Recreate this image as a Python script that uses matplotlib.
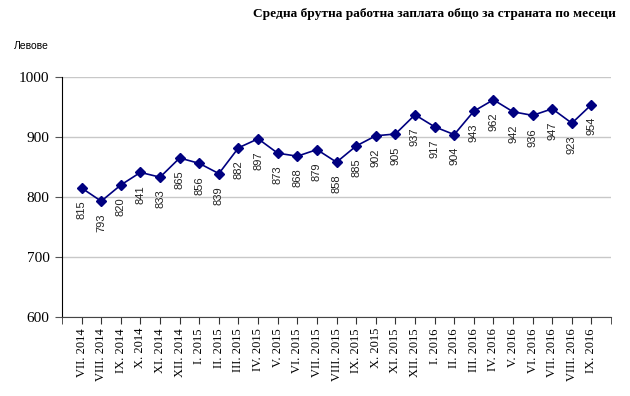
import matplotlib
matplotlib.use('Agg')
import matplotlib.pyplot as plt
import numpy as np

# months and average gross salary (leva)
months = ["VII. 2014", "VIII. 2014", "IX. 2014", "X. 2014", "XI. 2014", "XII. 2014",
          "I. 2015", "II. 2015", "III. 2015", "IV. 2015", "V. 2015", "VI. 2015",
          "VII. 2015", "VIII. 2015", "IX. 2015", "X. 2015", "XI. 2015", "XII. 2015",
          "I. 2016", "II. 2016", "III. 2016", "IV. 2016", "V. 2016", "VI. 2016",
          "VII. 2016", "VIII. 2016", "IX. 2016"]
salary = [815, 793, 820, 841, 833, 865, 856, 839, 882, 897, 873, 868, 879, 858,
          885, 902, 905, 937, 917, 904, 943, 962, 942, 936, 947, 923, 954]
yticks = [600, 700, 800, 900, 1000]

title = "Средна брутна работна заплата общо за страната по месеци"

fig = plt.figure(figsize=(6.3, 3.96), dpi=100)
ax = fig.add_axes([0.0984, 0.1995, 0.8716, 0.6061])

x = np.arange(len(salary))
ax.plot(x, salary, color='#000080', linewidth=1.2, marker='D', markersize=5.5, zorder=3)

# value labels under each point
for xi, v in zip(x, salary):
	ax.annotate(str(v), (xi, v), xytext=(0, -9), textcoords='offset points',
		rotation=90, ha='center', va='top', fontsize=8, color='#222222',
		family='Liberation Sans')

ax.set_xlim(-1, len(salary))
ax.set_ylim(600, 1000)
ax.set_yticks(yticks)
ax.set_yticklabels([str(t) for t in yticks], family='Liberation Serif', fontsize=11)
ax.yaxis.grid(True, color='#c8c8c8', linewidth=1)
ax.set_axisbelow(True)

ax.set_xticks(x)
ax.set_xticklabels(months, rotation=90, family='Liberation Serif', fontsize=9)
ax.set_xticks([-1, len(salary)], minor=True)
ax.tick_params(axis='x', which='both', length=5, direction='out', color='#333333', pad=3)
ax.tick_params(axis='y', length=5, direction='out', pad=4, color='#555555')

ax.spines['top'].set_visible(False)
ax.spines['right'].set_visible(False)
ax.spines['left'].set_color('black')
ax.spines['bottom'].set_color('#444444')

fig.text(0.689, 0.965, title, ha='center', va='center', fontsize=9.6,
	fontweight='bold', family='Liberation Serif')
fig.text(0.022, 0.885, "Левове", ha='left', va='center', fontsize=7.5,
	family='Liberation Sans')

plt.savefig("out.png", dpi=100)
